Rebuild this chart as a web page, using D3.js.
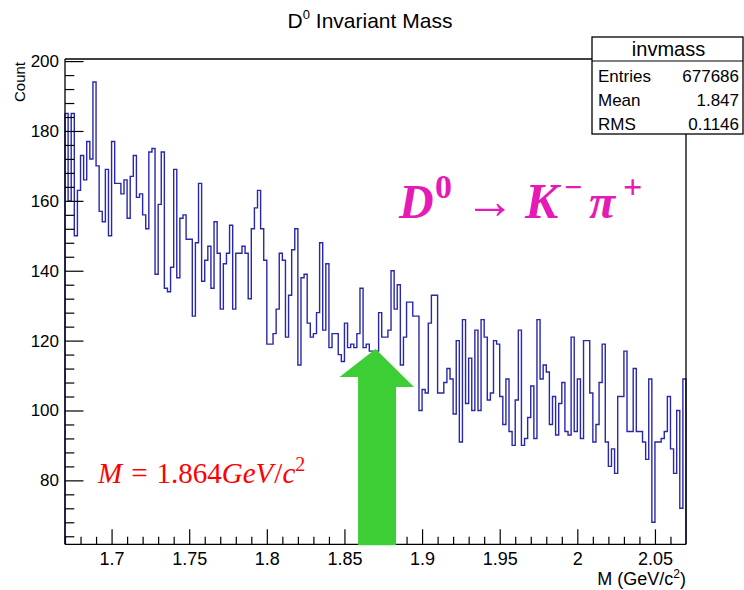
<!DOCTYPE html>
<html>
<head>
<meta charset="utf-8">
<script src="https://cdn.jsdelivr.net/npm/d3@7"></script>
<style>
  html, body { margin: 0; padding: 0; background: #ffffff; }
  svg { display: block; }
</style>
</head>
<body>
<svg id="chart" width="744" height="590"></svg>
<script>
// ---------------- data ----------------
const histName = "invmass";
const titleMain = "D";
const titleSup = "0";
const titleRest = " Invariant Mass";
const xTitle = "M (GeV/c";
const yTitle = "Count";
const xMin = 1.67;
const binWidth = 0.002;
const counts = [
  185, 160, 185, 150, 163, 173, 166, 177, 172, 194,
  170, 157, 154, 169, 150, 177, 165, 165, 162, 166,
  155, 167, 173, 161, 162, 156, 152, 174, 175, 139,
  159, 174, 135, 134, 141, 169, 138, 155, 156, 149,
  149, 127, 148, 165, 137, 143, 147, 135, 154, 145,
  129, 142, 145, 153, 129, 145, 145, 147, 145, 132,
  152, 158, 163, 152, 143, 119, 119, 122, 129, 145,
  143, 121, 133, 146, 152, 113, 138, 139, 125, 121,
  122, 128, 148, 123, 142, 118, 122, 122, 116, 114,
  125, 118, 119, 118, 122, 135, 118, 119, 117, 117,
  117, 128, 121, 121, 123, 140, 129, 136, 113, 121,
  131, 131, 127, 127, 100, 106, 105, 125, 133, 133,
  105, 105, 108, 112, 109, 99, 120, 91, 126, 102,
  115, 100, 123, 100, 126, 121, 103, 105, 120, 119,
  104, 96, 109, 94, 90, 103, 123, 90, 92, 98,
  107, 92, 126, 109, 113, 111, 96, 104, 93, 102,
  108, 94, 93, 121, 94, 109, 92, 120, 120, 105,
  91, 96, 108, 119, 91, 84, 89, 82, 104, 104,
  117, 94, 94, 112, 94, 94, 91, 86, 109, 68,
  91, 91, 92, 94, 104, 89, 82, 100, 72, 109
];
const xTicks = [1.7, 1.75, 1.8, 1.85, 1.9, 1.95, 2.0, 2.05];
const xTickLabels = ["1.7", "1.75", "1.8", "1.85", "1.9", "1.95", "2", "2.05"];
const yTicks = [80, 100, 120, 140, 160, 180, 200];
const statLabels = ["Entries", "Mean", "RMS"];
const statValues = ["677686", "1.847", "0.1146"];
const massNote = "1.864";
const arrowMass = 1.871;

// ---------------- layout ----------------
const svg = d3.select("#chart");
const L = 65, R = 686, T = 59, B = 544.3;
const xMax = xMin + binWidth * counts.length;
const x = d3.scaleLinear().domain([xMin, xMax]).range([L, R]);
const y = d3.scaleLinear().domain([61.7, 200.6]).range([B, T]);

const font = "'Liberation Sans', Arial, Helvetica, sans-serif";

// histogram outline
const pts = [[x(xMin), y.range()[0]]];
counts.forEach((c, i) => {
  pts.push([x(xMin + i * binWidth), y(c)]);
  pts.push([x(xMin + (i + 1) * binWidth), y(c)]);
});
pts.push([x(xMax), y.range()[0]]);
svg.append("path")
  .attr("d", d3.line()(pts))
  .attr("fill", "none")
  .attr("stroke", "#2828aa")
  .attr("stroke-width", 1.4)
  .attr("stroke-linejoin", "miter");

// frame
const frame = svg.append("g").attr("stroke", "#000").attr("stroke-width", 1.3).attr("fill", "none");
frame.append("line").attr("x1", L).attr("x2", R).attr("y1", T).attr("y2", T);
frame.append("line").attr("x1", R).attr("x2", R).attr("y1", T).attr("y2", B);
frame.append("line").attr("x1", L).attr("x2", R).attr("y1", B).attr("y2", B);
frame.append("line").attr("x1", L).attr("x2", L).attr("y1", T).attr("y2", B);

// x axis
const xMinor = d3.range(167, 207).map(v => v / 100).filter(v => !xTicks.some(t => Math.abs(t - v) < 1e-6));
const gx = svg.append("g").attr("transform", `translate(0,${B})`);
gx.call(d3.axisBottom(x).tickValues(xTicks).tickSize(-15).tickPadding(8)
  .tickFormat((d, i) => xTickLabels[i]));
const gxm = svg.append("g").attr("transform", `translate(0,${B})`);
gxm.call(d3.axisBottom(x).tickValues(xMinor).tickSize(-7.5).tickFormat(""));

// y axis
const yMinor = d3.range(64, 201, 4).filter(v => !yTicks.includes(v));
const gy = svg.append("g").attr("transform", `translate(${L},0)`);
gy.call(d3.axisLeft(y).tickValues(yTicks).tickSize(-18.5).tickPadding(6));
const gym = svg.append("g").attr("transform", `translate(${L},0)`);
gym.call(d3.axisLeft(y).tickValues(yMinor).tickSize(-9.3).tickFormat(""));

svg.selectAll(".domain").remove();
svg.selectAll(".tick line").attr("stroke", "#000").attr("stroke-width", 1.2);
svg.selectAll(".tick text").attr("font-family", font).attr("fill", "#000");
gx.selectAll(".tick text").attr("font-size", 18);
gy.selectAll(".tick text").attr("font-size", 17);

// axis titles
const xt = svg.append("text").attr("x", R).attr("y", 585).attr("text-anchor", "end")
  .attr("font-family", font).attr("font-size", 18).attr("fill", "#000");
xt.append("tspan").text(xTitle);
xt.append("tspan").attr("dy", -7).attr("font-size", 12).text("2");
xt.append("tspan").attr("dy", 7).text(")");

svg.append("text")
  .attr("transform", "translate(25,62) rotate(-90)")
  .attr("text-anchor", "end")
  .attr("font-family", font).attr("font-size", 15).attr("fill", "#000")
  .text(yTitle);

// title
const tt = svg.append("text").attr("x", 370).attr("y", 28).attr("text-anchor", "middle")
  .attr("font-family", font).attr("font-size", 21).attr("fill", "#000");
tt.append("tspan").text(titleMain);
tt.append("tspan").attr("dy", -9).attr("font-size", 13).text(titleSup);
tt.append("tspan").attr("dy", 9).text(titleRest);

// stats box
const bx = 592, by = 37, bw = 151, bh = 97;
svg.append("rect").attr("x", bx).attr("y", by).attr("width", bw).attr("height", bh)
  .attr("fill", "#fff").attr("stroke", "#000").attr("stroke-width", 1.3);
svg.append("line").attr("x1", bx).attr("x2", bx + bw).attr("y1", 61).attr("y2", 61)
  .attr("stroke", "#000").attr("stroke-width", 1.2);
svg.append("text").attr("x", bx + bw / 2 + 1).attr("y", 56).attr("text-anchor", "middle")
  .attr("font-family", font).attr("font-size", 20).text(histName);
statLabels.forEach((lab, i) => {
  const yy = 82 + i * 24;
  svg.append("text").attr("x", bx + 6).attr("y", yy)
    .attr("font-family", font).attr("font-size", 17).text(lab);
  svg.append("text").attr("x", bx + bw - 4).attr("y", yy).attr("text-anchor", "end")
    .attr("font-family", font).attr("font-size", 17).text(statValues[i]);
});

// decay annotation
const serif = "'Liberation Serif', 'DejaVu Serif', serif";
const magenta = "#e61bb5";
const ann = svg.append("g").attr("fill", magenta).attr("font-family", serif)
  .attr("font-weight", "bold").attr("font-style", "italic");
ann.append("text").attr("x", 399).attr("y", 218).attr("font-size", 48).text("D");
ann.append("text").attr("x", 435).attr("y", 198).attr("font-size", 34).attr("font-style", "normal").text("0");
ann.append("text").attr("x", 465).attr("y", 218).attr("font-size", 50).attr("font-style", "normal").attr("font-weight", "normal").text("→");
ann.append("text").attr("x", 525).attr("y", 218).attr("font-size", 50).text("K");
ann.append("text").attr("x", 564).attr("y", 198).attr("font-size", 32).attr("font-style", "normal").text("−");
ann.append("text").attr("x", 589).attr("y", 218).attr("font-size", 48).text("π");
ann.append("text").attr("x", 623).attr("y", 198).attr("font-size", 34).attr("font-style", "normal").text("+");

// mass annotation
const mt = svg.append("text").attr("x", 98).attr("y", 483).attr("fill", "#ff0000")
  .attr("font-family", serif).attr("font-size", 29);
mt.append("tspan").attr("font-style", "italic").text("M");
mt.append("tspan").attr("dx", 9).text("=");
mt.append("tspan").attr("dx", 9).text(massNote);
mt.append("tspan").attr("font-style", "italic").text("GeV");
mt.append("tspan").attr("dx", 1).text("/");
mt.append("tspan").attr("font-style", "italic").text("c");
mt.append("tspan").attr("dy", -12).attr("font-size", 20).text("2");

// green arrow
const ax = x(arrowMass);
svg.append("path")
  .attr("d", `M${ax - 19},${B + 1} L${ax - 19},377 L${ax - 37.5},377 L${ax - 1.5},349 L${ax + 37},387 L${ax + 19},387 L${ax + 19},${B + 1} Z`)
  .attr("fill", "#3dcd35");
</script>
</body>
</html>
